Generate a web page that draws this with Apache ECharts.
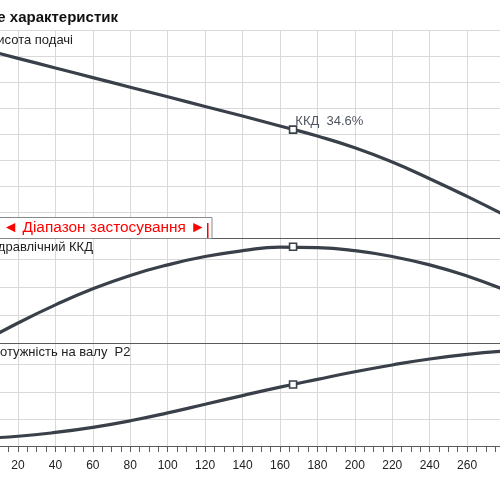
<!DOCTYPE html>
<html>
<head>
<meta charset="utf-8">
<script src="https://cdn.jsdelivr.net/npm/echarts@6/dist/echarts.min.js"></script>
<style>html,body{margin:0;padding:0;background:#fff;}#c{width:500px;height:500px;}</style>
</head>
<body>
<div id="c"></div>
<script>
// Flow values (x axis)
const qValues = [0, 20, 40, 60, 80, 100, 120, 140, 160, 180, 200, 220, 240, 260, 280];
// Head curve (panel 1)
const headValues = [7.28, 6.91, 6.54, 6.17, 5.80, 5.43, 5.06, 4.69, 4.31, 3.92, 3.47, 2.92, 2.28, 1.60, 0.88];
// Hydraulic efficiency, % (panel 2)
const effValues = [0, 7.2, 13.7, 19.5, 24.3, 28.1, 31.1, 33.2, 34.5, 34.3, 33.2, 31.1, 28.1, 24.1, 19.1];
// Shaft power P2 (panel 3)
const powerValues = [0.28, 0.36, 0.50, 0.69, 0.93, 1.22, 1.54, 1.86, 2.17, 2.46, 2.74, 2.99, 3.21, 3.38, 3.50];
// Best efficiency point
const bepQ = [167];
const bepHead = [4.17];
const bepEff = [34.6];
const bepPower = [2.27];
// Texts
const titleText = 'Поле характеристик';
const panelTitles = ['Висота подачі', 'Гідравлічний ККД', 'Потужність на валу  P2'];
const rangeText = '◄ Діапазон застосування ►';

const zip = (xs, ys) => xs.map((x, i) => [x, ys[i]]);

const FONT = 'Liberation Sans, Arial, sans-serif';
const GRID_C = '#d9d9d9';
const AXIS_C = '#5b5b5b';
const CURVE_C = '#3a4049';

const chart = echarts.init(document.getElementById('c'), null, {renderer: 'canvas'});

const gridBase = {left: -19.4, right: -4.5, containLabel: false, outerBoundsMode: 'none'};
const xBase = {
  type: 'value', min: 0, max: 280, interval: 20,
  splitLine: {show: true, lineStyle: {color: GRID_C, width: 1}},
  axisLabel: {show: false}, axisTick: {show: false},
  axisLine: {show: true, lineStyle: {color: AXIS_C, width: 1}}
};
const yBase = {
  type: 'value', min: 0,
  splitLine: {show: true, lineStyle: {color: GRID_C, width: 1}},
  axisLabel: {show: false}, axisTick: {show: false}, axisLine: {show: false}
};
const lineBase = {
  type: 'line', smooth: 0.5, showSymbol: false, symbol: 'none',
  lineStyle: {color: CURVE_C, width: 3.2}, itemStyle: {color: CURVE_C}, z: 3, silent: true
};
const markBase = {
  type: 'scatter', symbol: 'rect', symbolSize: 7,
  itemStyle: {color: '#ffffff', borderColor: CURVE_C, borderWidth: 1.6, opacity: 1}, z: 5, silent: true
};

chart.setOption({
  animation: false,
  backgroundColor: '#ffffff',
  grid: [
    Object.assign({top: 30, height: 208}, gridBase),
    Object.assign({top: 238, height: 105}, gridBase),
    Object.assign({top: 343, height: 103}, gridBase)
  ],
  xAxis: [
    Object.assign({}, xBase, {gridIndex: 0, position: 'top'}),
    Object.assign({}, xBase, {gridIndex: 1, position: 'top'}),
    Object.assign({}, xBase, {
      gridIndex: 2, position: 'bottom',
      axisTick: {show: true, length: 6, lineStyle: {color: AXIS_C}},
      minorTick: {show: true, splitNumber: 4, length: 6, lineStyle: {color: AXIS_C}},
      axisLabel: {show: true, fontSize: 12, color: '#222', fontFamily: FONT, margin: 14,
                  showMinLabel: false, showMaxLabel: false}
    }),
    Object.assign({}, xBase, {gridIndex: 2, position: 'top', splitLine: {show: false}})
  ],
  yAxis: [
    Object.assign({}, yBase, {gridIndex: 0, max: 8, interval: 1}),
    Object.assign({}, yBase, {gridIndex: 1, max: 37.77, interval: 10}),
    Object.assign({}, yBase, {gridIndex: 2, max: 3.8, interval: 1})
  ],
  series: [
    Object.assign({}, lineBase, {xAxisIndex: 0, yAxisIndex: 0, data: zip(qValues, headValues)}),
    Object.assign({}, lineBase, {xAxisIndex: 1, yAxisIndex: 1, data: zip(qValues, effValues)}),
    Object.assign({}, lineBase, {xAxisIndex: 2, yAxisIndex: 2, data: zip(qValues, powerValues)}),
    Object.assign({}, markBase, {
      xAxisIndex: 0, yAxisIndex: 0, data: zip(bepQ, bepHead),
      label: {show: true, position: 'right', offset: [-7, -8], fontSize: 13, fontFamily: FONT,
              color: '#505661', formatter: () => 'ККД  ' + bepEff[0] + '%'}
    }),
    Object.assign({}, markBase, {xAxisIndex: 1, yAxisIndex: 1, data: zip(bepQ, bepEff)}),
    Object.assign({}, markBase, {xAxisIndex: 2, yAxisIndex: 2, data: zip(bepQ, bepPower)})
  ],
  graphic: [
    {type: 'text', x: 118, y: 18, z: 100,
     style: {text: titleText, font: 'bold 15px ' + FONT, fill: '#111', align: 'right', verticalAlign: 'middle'}},
    {type: 'text', x: 73, y: 40, z: 100,
     style: {text: panelTitles[0], font: '13px ' + FONT, fill: '#222', align: 'right', verticalAlign: 'middle'}},
    {type: 'text', x: 93, y: 247, z: 100,
     style: {text: panelTitles[1], font: '13px ' + FONT, fill: '#222', align: 'right', verticalAlign: 'middle'}},
    {type: 'text', x: 130.5, y: 352, z: 100,
     style: {text: panelTitles[2], font: '13px ' + FONT, fill: '#222', align: 'right', verticalAlign: 'middle'}},
    {type: 'rect', z: 100, shape: {x: -5, y: 217.5, width: 217, height: 21},
     style: {fill: '#ffffff', stroke: '#8a8a8a', lineWidth: 1}},
    {type: 'text', x: 3, y: 228, z: 101,
     style: {text: rangeText, font: '15.4px ' + FONT, fill: '#ff0000', align: 'left', verticalAlign: 'middle'}},
    {type: 'rect', z: 101, shape: {x: 207, y: 223, width: 1.5, height: 15}, style: {fill: '#ff0000'}}
  ]
});
</script>
</body>
</html>
